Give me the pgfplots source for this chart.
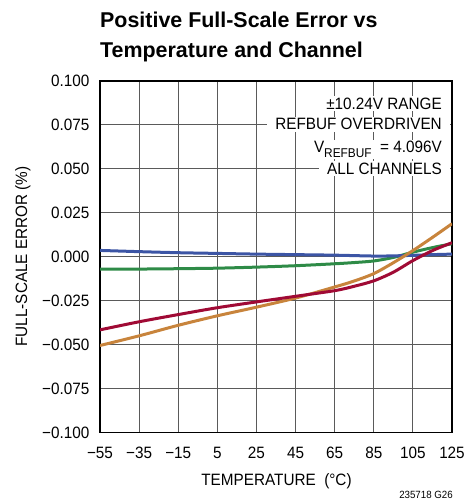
\documentclass[border=0pt]{standalone}
\usepackage{fontspec}
\setmainfont{Liberation Sans}
\newfontfamily\cond[FakeStretch=0.93]{Liberation Sans}
\usepackage{pgfplots}
\pgfplotsset{compat=1.18}
\definecolor{cblue}{HTML}{3C55A5}
\definecolor{cgreen}{HTML}{2E8B47}
\definecolor{cred}{HTML}{A00A35}
\definecolor{corange}{HTML}{C8843C}
\definecolor{cgrid}{HTML}{5A5A5A}
\begin{document}
\begin{tikzpicture}
\begin{axis}[
  at={(100bp,66.5bp)}, anchor=south west,
  scale only axis, width=352bp, height=351.5bp,
  xmin=-55, xmax=125, ymin=-0.1, ymax=0.1,
  xtick={-55,-35,-15,5,25,45,65,85,105,125},
  xticklabels={−55,−35,−15,5,25,45,65,85,105,125},
  ytick={-0.1,-0.075,-0.05,-0.025,0,0.025,0.05,0.075,0.1},
  yticklabels={−0.100,−0.075,−0.050,−0.025,0.000,0.025,0.050,0.075,0.100},
  grid=major,
  major grid style={line width=1bp, color=cgrid},
  axis line style={line width=1.5bp, black},
  major tick length=0pt,
  tick label style={font=\cond\fontsize{16.5}{19}\selectfont},
  xticklabel style={anchor=base, inner sep=0pt, yshift=-25.8bp},
  yticklabel style={anchor=east, inner sep=0pt, xshift=-10.5bp},
  clip=true,
]
\addplot[cgreen, line width=3bp, smooth] coordinates {
(-55,-0.0070) (-35,-0.0070) (-15,-0.0068) (5,-0.0065) (25,-0.0059) (45,-0.0051) (65,-0.0040) (75,-0.0033) (85,-0.0024) (95,-0.0004) (105,0.0026) (115,0.0052) (125,0.0074)};
\addplot[cblue, line width=3bp, smooth] coordinates {
(-55,0.0036) (-35,0.0029) (-15,0.0023) (5,0.0019) (25,0.0015) (45,0.0012) (65,0.0009) (85,0.0004) (95,0.0005) (105,0.0008) (115,0.0012) (125,0.0015)};
\addplot[corange, line width=3bp, smooth] coordinates {
(-55,-0.0505) (-35,-0.0450) (-15,-0.0390) (5,-0.0336) (25,-0.0287) (45,-0.0235) (65,-0.0172) (75,-0.0138) (85,-0.0096) (95,-0.0034) (105,0.0035) (115,0.0110) (125,0.0188)};
\addplot[cred, line width=3bp, smooth] coordinates {
(-55,-0.0416) (-35,-0.0370) (-15,-0.0329) (5,-0.0290) (25,-0.0257) (45,-0.0225) (65,-0.0193) (75,-0.0168) (85,-0.0137) (95,-0.0088) (105,-0.0022) (115,0.0035) (125,0.0080)};
\begin{scope}[every node/.style={anchor=base east, fill=white, inner xsep=8bp, inner ysep=1.5bp, font=\cond\fontsize{16.5}{19}\selectfont}]
\node at (rel axis cs:0.9943,0.9195) {±10.24V RANGE};
\node at (rel axis cs:0.9943,0.8606) {REFBUF OVERDRIVEN};
\node at (rel axis cs:0.9943,0.7960) {V\raisebox{-4.5bp}{\fontsize{12.8}{14}\selectfont REFBUF}\ \ = 4.096V};
\node at (rel axis cs:0.9943,0.7354) {ALL CHANNELS};
\end{scope}
\end{axis}
\node[anchor=base west, inner sep=0pt, font=\fontsize{21.5}{26}\selectfont\bfseries] at (100bp,471.3bp) {Positive Full-Scale Error vs};
\node[anchor=base west, inner sep=0pt, font=\fontsize{21.5}{26}\selectfont\bfseries] at (100bp,441.7bp) {Temperature and Channel};
\node[anchor=base, inner sep=0pt, font=\cond\fontsize{16.5}{19}\selectfont] at (276.5bp,14bp) {TEMPERATURE\ \ (°C)};
\node[anchor=base, rotate=90, inner sep=0pt, font=\cond\fontsize{16.5}{19}\selectfont] at (27bp,242.5bp) {FULL-SCALE ERROR (\%)};
\node[anchor=base east, inner sep=0pt, font=\cond\fontsize{10.5}{12}\selectfont] at (453bp,1bp) {235718 G26};
\pgfresetboundingbox
\path (0,0) rectangle (465bp,499bp);
\end{tikzpicture}
\end{document}
